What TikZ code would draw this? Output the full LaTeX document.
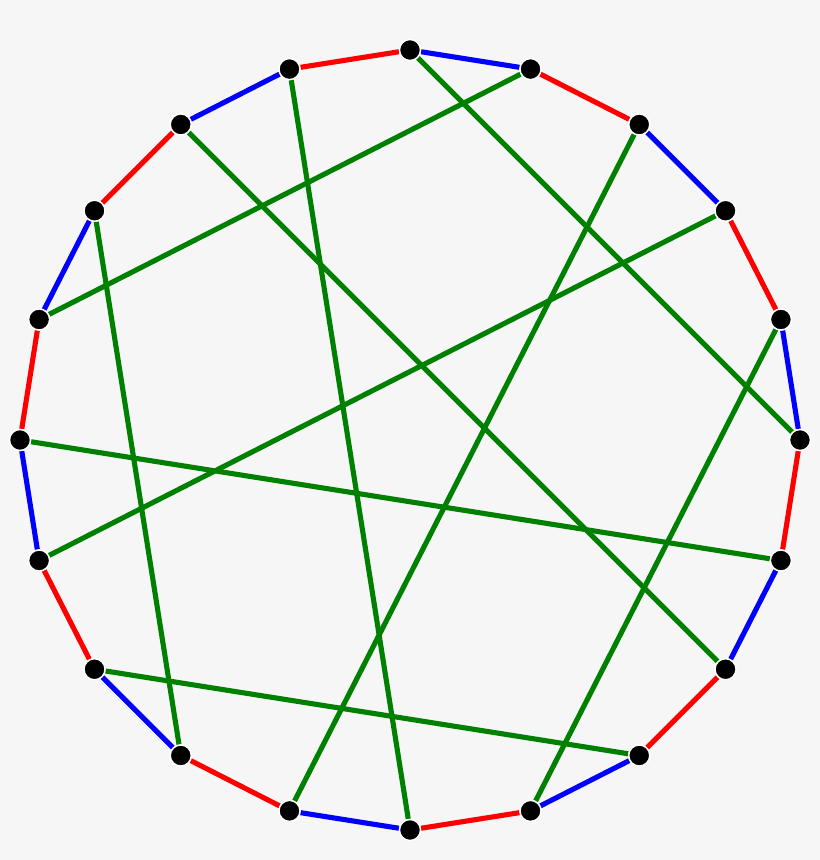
\documentclass[tikz,border=0pt]{standalone}
\usepackage{tikz}
\usetikzlibrary{backgrounds}
\definecolor{bgray}{RGB}{246,246,246}
\definecolor{dgreen}{RGB}{0,128,0}
\tikzset{%
  vertex/.style={circle,fill=black,draw=white,line width=0.4pt,inner sep=0pt,minimum size=0.21cm},
  cyc/.style={line width=1.45pt},
  chord/.style={draw=dgreen,line width=1.45pt}
}
\begin{document}
\begin{tikzpicture}
	\useasboundingbox (0,0) rectangle (8.2,8.6);
	% vertices round the circle
	\foreach \i in {1,...,20}
		\node[vertex] (v\i) at ({4.1+3.9*cos(90-18*(\i-1))},{4.2+3.9*sin(90-18*(\i-1))}) {};
	\begin{scope}[on background layer]
	\fill[bgray] (0,0) rectangle (8.2,8.6);
	% outer cycle, alternating colours
	\foreach \i [evaluate=\i as \j using {int(mod(\i,20)+1)}, evaluate=\i as \c using {int(mod(\i,2))}] in {1,...,20}{
		\ifnum\c=1 \draw[cyc,blue] (v\i) -- (v\j); \else \draw[cyc,red] (v\i) -- (v\j); \fi
	}
	% chords
	\foreach \a/\b in {1/6,2/17,3/12,4/15,5/10,7/16,8/19,9/14,11/20,13/18}
		\draw[chord] (v\a) -- (v\b);
	\end{scope}
\end{tikzpicture}
\end{document}
